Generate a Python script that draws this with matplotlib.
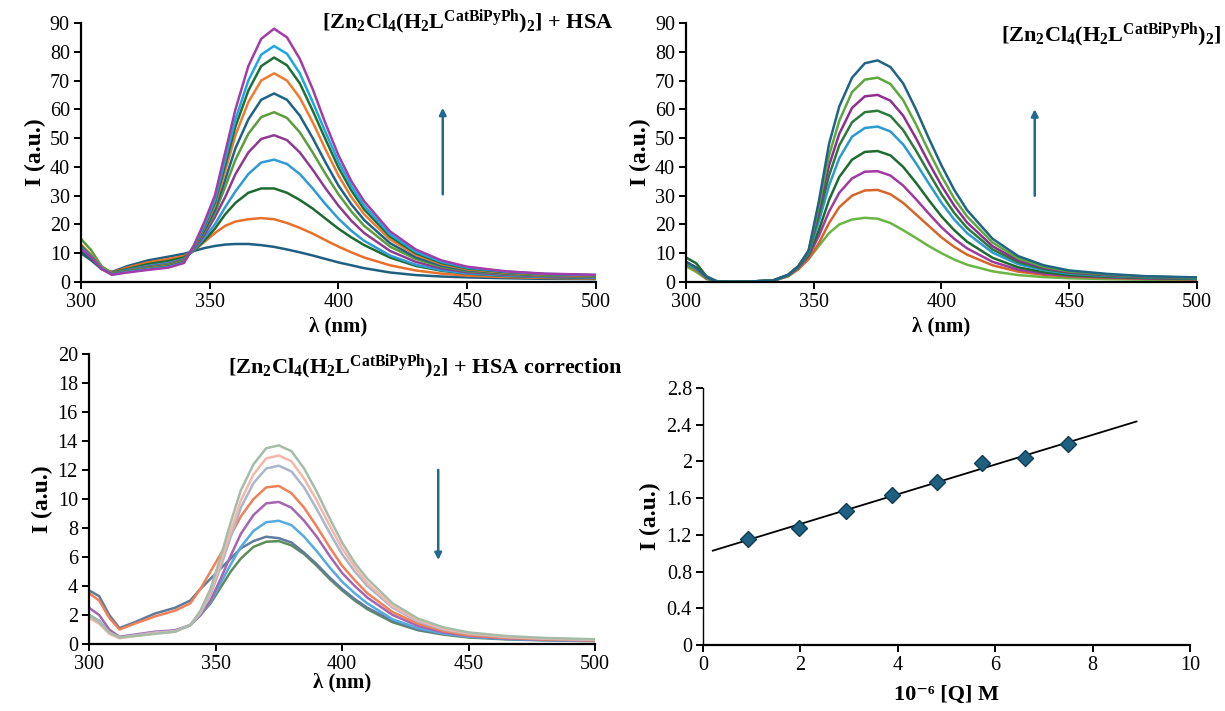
import numpy as np
import matplotlib
matplotlib.use("Agg")
import matplotlib.pyplot as plt
from matplotlib.ticker import FormatStrFormatter, MultipleLocator

plt.rcParams['font.family'] = ['Liberation Serif', 'DejaVu Serif']
plt.rcParams['mathtext.fontset'] = 'custom'
plt.rcParams['mathtext.rm'] = 'Liberation Serif'
plt.rcParams['mathtext.it'] = 'Liberation Serif:italic'
plt.rcParams['mathtext.bf'] = 'Liberation Serif:bold'

# wavelength grid (nm) shared by all spectra
wl = [300, 304, 308, 312, 318, 326, 334, 340, 344, 348, 352, 356, 360, 365, 370,
      375, 380, 385, 390, 395, 400, 405, 410, 420, 430, 440, 450, 465, 480, 500]

# --- complex + HSA (top left)
hsa_spectra = [
    [10, 7.5, 4.5, 3.5, 5.5, 7.5, 8.8, 9.8, 10.8, 11.8, 12.5, 13.0, 13.2, 13.2, 12.8,
     12.2, 11.3, 10.3, 9.2, 8.0, 6.8, 5.8, 4.8, 3.3, 2.4, 1.9, 1.6, 1.3, 1.1, 1.0],
    [11, 8, 5, 3.3, 5, 6.8, 8, 9, 11, 14, 17, 19.5, 21, 21.8, 22.2,
     21.8, 20.5, 18.8, 16.8, 14.5, 12.3, 10.3, 8.5, 5.8, 4.0, 2.9, 2.2, 1.7, 1.4, 1.2],
    [10.5, 8, 4.5, 3.2, 4.5, 6.2, 7.3, 8.5, 11, 14.5, 18.5, 23.5, 27.5, 31, 32.5,
     32.5, 31, 28.5, 25.5, 22, 18.5, 15.5, 12.8, 8.5, 5.6, 3.9, 2.9, 2.1, 1.7, 1.4],
    [12, 9, 5, 3, 4.2, 5.6, 6.6, 8, 11.2, 15.5, 20, 26, 31.5, 37.5, 41.5,
     42.5, 41, 37.5, 32.5, 27, 22, 17.8, 14.3, 9.2, 6, 4.1, 3.0, 2.2, 1.8, 1.5],
    [11.5, 8.5, 4.8, 2.9, 4, 5.3, 6.3, 7.8, 11.5, 16.5, 22.5, 29.5, 37.5, 45, 49.7,
     51, 49.3, 45, 39, 32.5, 26.5, 21.3, 17, 10.8, 7, 4.7, 3.4, 2.5, 2.0, 1.7],
    [15, 11, 5.5, 3, 3.9, 5.1, 6.1, 7.6, 11.8, 17.5, 24, 33, 42.5, 51.5, 57.3,
     59, 57, 52, 45, 37.5, 30.5, 24.5, 19.5, 12.3, 8, 5.3, 3.8, 2.8, 2.2, 1.9],
    [11, 8.3, 4.6, 2.8, 3.8, 4.9, 5.8, 7.4, 12, 18, 25, 35.5, 46.5, 56.5, 63.3,
     65.5, 63.3, 57.8, 50, 41.5, 33.5, 27, 21.5, 13.5, 8.6, 5.7, 4.1, 3, 2.4, 2.0],
    [13, 9.5, 5, 2.8, 3.7, 4.7, 5.6, 7.2, 12.3, 19, 26.5, 38.5, 51, 62.5, 70,
     72.5, 70, 64, 55.5, 46, 37, 29.5, 23.5, 14.8, 9.4, 6.2, 4.4, 3.2, 2.5, 2.1],
    [12.5, 9, 4.8, 2.7, 3.6, 4.5, 5.4, 7, 12.5, 19.5, 27.5, 40.5, 54, 66.5, 75,
     78, 75.3, 69, 59.5, 49.5, 39.8, 31.8, 25.2, 15.8, 10, 6.6, 4.7, 3.4, 2.7, 2.3],
    [12, 8.8, 4.7, 2.6, 3.5, 4.4, 5.2, 6.8, 12.8, 20, 28.5, 42.5, 56.5, 70, 79,
     82, 79.3, 72.5, 62.5, 52, 41.8, 33.3, 26.5, 16.6, 10.5, 7, 5, 3.6, 2.8, 2.4],
    [11.5, 8.5, 4.5, 2.5, 3.3, 4.2, 5.0, 6.6, 13, 21, 30, 45, 60, 75, 84.5,
     88, 85, 77.5, 67, 55, 44, 35, 28, 17.6, 11.3, 7.5, 5.3, 3.7, 2.9, 2.5],
]
hsa_colors = ['#1F5F82', '#E8702A', '#1E6B30', '#2F9BD5', '#8E3A92', '#5A9E3A',
              '#1D6389', '#F07A30', '#1F7035', '#1CA8E0', '#A33BA8']

# --- complex alone (top right)
cpx_spectra = [
    [5.5, 3.5, 1, 0.2, 0.1, 0.2, 0.4, 2, 4.5, 8, 12.5, 17, 20, 21.7, 22.3,
     22, 20.5, 18, 15.3, 12.5, 10, 7.8, 6, 3.7, 2.4, 1.7, 1.3, 1.0, 0.8, 0.7],
    [6, 4, 1.2, 0.2, 0.1, 0.2, 0.4, 2, 4.5, 8, 13.5, 20.5, 26, 30, 31.8,
     32, 30.5, 27.5, 23.5, 19.5, 15.5, 12.2, 9.5, 5.8, 3.6, 2.5, 1.9, 1.4, 1.1, 0.9],
    [7, 4.5, 1.4, 0.2, 0.1, 0.2, 0.4, 2.2, 5, 9, 16, 24.5, 31, 36, 38.3,
     38.5, 37, 33.5, 28.8, 23.8, 19, 15, 11.7, 7, 4.3, 2.9, 2.1, 1.6, 1.2, 1.0],
    [8.5, 6.5, 2, 0.3, 0.1, 0.2, 0.5, 2.3, 5.2, 9.5, 18, 28.5, 36.5, 42.5, 45.2,
     45.5, 44, 40, 34.5, 28.5, 22.8, 18, 14, 8.4, 5.1, 3.4, 2.4, 1.8, 1.4, 1.1],
    [6, 4.5, 1.5, 0.2, 0.1, 0.2, 0.5, 2.3, 5.3, 10, 21, 33.5, 43, 50.5, 53.5,
     54, 52.3, 47.8, 41.3, 34.3, 27.5, 21.7, 17, 10.2, 6.2, 4.1, 2.9, 2.1, 1.6, 1.3],
    [6.5, 4.8, 1.6, 0.2, 0.1, 0.2, 0.5, 2.4, 5.4, 10.3, 23, 37, 47.5, 55.5, 59,
     59.5, 57.7, 52.8, 45.7, 38, 30.5, 24, 18.8, 11.3, 6.9, 4.5, 3.2, 2.3, 1.7, 1.4],
    [7, 5, 1.7, 0.2, 0.1, 0.2, 0.5, 2.5, 5.5, 10.6, 25, 40.5, 51.5, 60.5, 64.5,
     65, 63, 57.8, 50, 41.5, 33.5, 26.5, 20.7, 12.4, 7.5, 4.9, 3.4, 2.4, 1.8, 1.5],
    [6.5, 4.8, 1.6, 0.2, 0.1, 0.2, 0.5, 2.5, 5.5, 10.8, 26.5, 44, 56, 66, 70.3,
     71, 68.8, 63.2, 54.8, 45.5, 36.8, 29, 22.8, 13.7, 8.2, 5.3, 3.7, 2.6, 1.9, 1.5],
    [7, 5, 1.7, 0.2, 0.1, 0.2, 0.5, 2.5, 5.5, 11, 28, 48, 61, 71, 76,
     77, 74.7, 69, 60, 50, 40.5, 32, 25, 15, 9, 5.8, 4, 2.8, 2.0, 1.6],
]
cpx_colors = ['#6AB644', '#D4662A', '#A03A9E', '#1E6B30', '#2A9BD0', '#2B7A3A',
              '#8E2F90', '#5CA83C', '#1F6385']

# --- HSA correction (bottom left)
corr_spectra = [
    [2.0, 1.5, 0.8, 0.45, 0.6, 0.75, 0.9, 1.3, 2.0, 2.8, 3.9, 5.0, 5.9, 6.7, 7.05,
     7.1, 6.8, 6.2, 5.4, 4.5, 3.7, 3.0, 2.4, 1.5, 0.95, 0.65, 0.45, 0.32, 0.25, 0.2],
    [3.7, 3.3, 2.0, 1.1, 1.5, 2.1, 2.5, 3.0, 3.8, 4.5, 5.2, 5.9, 6.6, 7.1, 7.4,
     7.3, 7.0, 6.3, 5.5, 4.6, 3.8, 3.1, 2.5, 1.6, 1.0, 0.7, 0.5, 0.35, 0.28, 0.22],
    [2.0, 1.6, 0.8, 0.45, 0.6, 0.8, 0.9, 1.3, 2.0, 2.9, 4.2, 5.5, 6.7, 7.8, 8.4,
     8.5, 8.2, 7.4, 6.4, 5.3, 4.3, 3.5, 2.8, 1.7, 1.1, 0.72, 0.5, 0.35, 0.27, 0.22],
    [2.5, 2.0, 1.0, 0.5, 0.65, 0.85, 0.95, 1.3, 2.0, 3.0, 4.5, 6.1, 7.6, 8.9, 9.7,
     9.8, 9.4, 8.5, 7.4, 6.1, 4.9, 4.0, 3.2, 2.0, 1.25, 0.8, 0.55, 0.38, 0.3, 0.24],
    [3.5, 3.0, 1.8, 1.0, 1.4, 1.9, 2.3, 2.8, 3.8, 5.0, 6.2, 7.5, 8.8, 10.0, 10.8,
     10.9, 10.4, 9.4, 8.1, 6.7, 5.4, 4.4, 3.5, 2.2, 1.4, 0.9, 0.6, 0.42, 0.32, 0.25],
    [2.0, 1.6, 0.8, 0.45, 0.6, 0.8, 0.9, 1.3, 2.1, 3.4, 5.3, 7.4, 9.4, 11.1, 12.1,
     12.3, 11.9, 10.8, 9.3, 7.7, 6.2, 5.0, 4.0, 2.5, 1.55, 1.0, 0.7, 0.48, 0.36, 0.28],
    [1.8, 1.4, 0.7, 0.4, 0.55, 0.75, 0.85, 1.3, 2.2, 3.6, 5.6, 7.8, 9.9, 11.7, 12.8,
     13.0, 12.6, 11.4, 9.9, 8.2, 6.6, 5.3, 4.2, 2.6, 1.65, 1.05, 0.75, 0.5, 0.38, 0.3],
    [2.0, 1.5, 0.8, 0.45, 0.55, 0.7, 0.85, 1.3, 2.3, 3.8, 6.0, 8.4, 10.6, 12.4, 13.5,
     13.7, 13.3, 12.1, 10.5, 8.7, 7.0, 5.6, 4.5, 2.8, 1.75, 1.15, 0.8, 0.55, 0.42, 0.33],
]
corr_colors = ['#5E8C5A', '#5F7C9C', '#55ABE0', '#A566B0', '#F08058', '#A9B6CC',
               '#F5B7A8', '#A7BCA8']

# --- quenching plot (bottom right)
q_conc = [0.92, 1.97, 2.93, 3.88, 4.80, 5.73, 6.62, 7.50]
q_int = [1.16, 1.28, 1.46, 1.63, 1.78, 1.98, 2.04, 2.19]
fit_range = [0.2, 8.9]

arrow_col = '#1F6A8E'
title_cpx = r'$\mathbf{[Zn_2Cl_4(H_2L^{CatBiPyPh})_2]}$'

fig = plt.figure(figsize=(12.25, 7.11), dpi=100)
ax1 = fig.add_axes([0.0661, 0.6034, 0.4204, 0.3643])
ax2 = fig.add_axes([0.5600, 0.6034, 0.4171, 0.3643])
ax3 = fig.add_axes([0.0727, 0.0942, 0.4131, 0.4079])
ax4 = fig.add_axes([0.5739, 0.0928, 0.3976, 0.3615])


def style_axis(ax):
    for s in ['top', 'right']:
        ax.spines[s].set_visible(False)
    for s in ['left', 'bottom']:
        ax.spines[s].set_linewidth(1.6)
    ax.tick_params(direction='out', length=5, width=1.4, labelsize=14.5, pad=3)


for ax, spectra, colors in [(ax1, hsa_spectra, hsa_colors),
                            (ax2, cpx_spectra, cpx_colors),
                            (ax3, corr_spectra, corr_colors)]:
    for y, c in zip(spectra, colors):
        ax.plot(wl, y, color=c, lw=1.8)
    ax.set_xlim(300, 500)
    ax.xaxis.set_major_locator(MultipleLocator(50))
    ax.set_ylabel('I (a.u.)', fontsize=17, fontweight='bold', labelpad=3)
    style_axis(ax)

for ax in [ax1, ax2]:
    ax.set_ylim(0, 90)
    ax.yaxis.set_major_locator(MultipleLocator(10))
    ax.set_xlabel('λ (nm)', fontsize=15, fontweight='bold', labelpad=3)
ax3.set_ylim(0, 20)
ax3.yaxis.set_major_locator(MultipleLocator(2))
ax3.set_xlabel('λ (nm)', fontsize=15, fontweight='bold', labelpad=-1)

# arrows
ax1.annotate('', xy=(440.5, 61.5), xytext=(440.5, 29.5),
             arrowprops=dict(arrowstyle='-|>', color=arrow_col, lw=1.8, mutation_scale=10))
ax2.annotate('', xy=(436.5, 61), xytext=(436.5, 29),
             arrowprops=dict(arrowstyle='-|>', color=arrow_col, lw=1.8, mutation_scale=10))
ax3.annotate('', xy=(438, 5.6), xytext=(438, 12.2),
             arrowprops=dict(arrowstyle='-|>', color=arrow_col, lw=1.8, mutation_scale=10))

# titles
fig.text(614 / 1225, 1 - 22 / 711, title_cpx + ' + HSA', ha='right', va='center',
         fontsize=16, fontweight='bold')
fig.text(1222 / 1225, 1 - 35 / 711, title_cpx, ha='right', va='center',
         fontsize=16, fontweight='bold')
fig.text(623 / 1225, 1 - 367 / 711, title_cpx + ' + HSA correction', ha='right',
         va='center', fontsize=16, fontweight='bold')

# linear fit panel
k, b = np.polyfit(q_conc, q_int, 1)
xf = np.array(fit_range)
ax4.plot(xf, k * xf + b, color='black', lw=1.3)
ax4.plot(q_conc, q_int, 'D', ms=8, color='#1F5F7F', mec='#0E3B55', mew=1)
ax4.set_xlim(0, 10)
ax4.set_ylim(0, 2.8)
ax4.xaxis.set_major_locator(MultipleLocator(2))
ax4.yaxis.set_major_locator(MultipleLocator(0.4))
ax4.yaxis.set_major_formatter(FormatStrFormatter('%g'))
ax4.set_xlabel('10⁻⁶ [Q] M', fontsize=16, fontweight='bold', labelpad=7)
ax4.set_ylabel('I (a.u.)', fontsize=17, fontweight='bold', labelpad=4)
style_axis(ax4)
ax4.spines['left'].set_linewidth(1.0)

plt.savefig('out.png', dpi=100)
